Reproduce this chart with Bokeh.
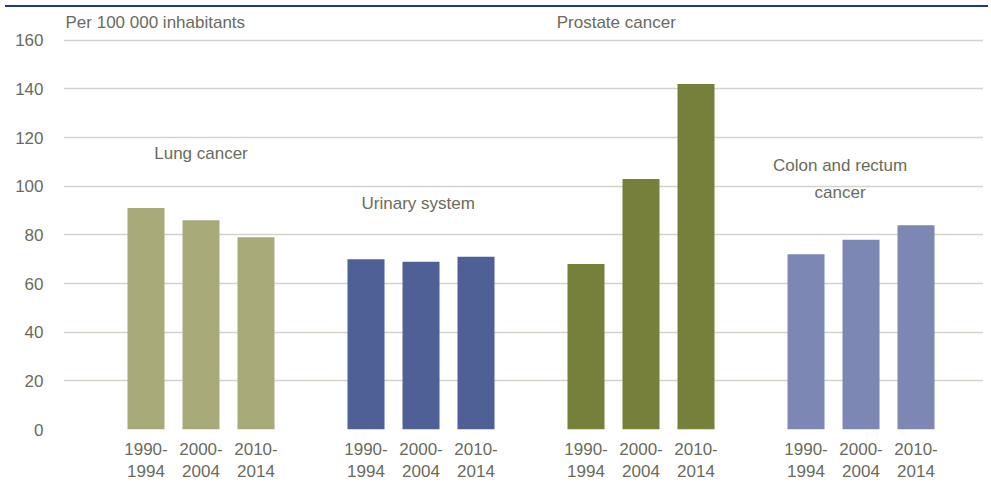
from bokeh.plotting import figure
from bokeh.models import FixedTicker, Label, Range1d, Div
from bokeh.layouts import column
from bokeh.embed import file_html
from bokeh.resources import INLINE

# ---- data ----
groups = ["Lung cancer", "Urinary system", "Prostate cancer", "Colon and rectum\ncancer"]
periods = ["1990-\n1994", "2000-\n2004", "2010-\n2014"]
lung = [91, 86, 79]
urinary = [70, 69, 71]
prostate = [68, 103, 142]
colon = [72, 78, 84]
y_ticks = [0, 20, 40, 60, 80, 100, 120, 140, 160]
unit_label = "Per 100 000 inhabitants"

series = [lung, urinary, prostate, colon]
colors = ["#A8AA7A", "#4E6096", "#76803A", "#7D87B4"]
TEXT = "#6A6B5E"
FONT = "Liberation Sans"

xs, tops, cols, tick_pos, tick_lab = [], [], [], [], []
for g, vals in enumerate(series):
    for i, v in enumerate(vals):
        k = g * 4 + i
        xs.append(k)
        tops.append(v)
        cols.append(colors[g])
        tick_pos.append(k)
        tick_lab.append(periods[i])

p = figure(width=983, height=472, output_backend="svg", toolbar_location=None,
           x_range=Range1d(-1.5, 15.227), y_range=Range1d(0, 171.4),
           min_border_left=63, min_border_right=0, min_border_top=0, min_border_bottom=0)
p.outline_line_color = None
p.background_fill_color = "white"

p.vbar(x=xs, top=tops, width=0.673, color=cols, line_color=None)

# axes
p.xaxis.ticker = FixedTicker(ticks=tick_pos)
p.xaxis.major_label_overrides = {k: s for k, s in zip(tick_pos, tick_lab)}
p.xaxis.axis_line_color = None
p.xaxis.major_tick_line_color = None
p.xaxis.minor_tick_line_color = None
p.xaxis.major_tick_out = 0
p.xaxis.major_tick_in = 0
p.xaxis.major_label_standoff = 10
p.xaxis.major_label_text_font = FONT
p.xaxis.major_label_text_font_size = "17px"
p.xaxis.major_label_text_color = TEXT
p.xaxis.major_label_text_line_height = 1.2

p.yaxis.ticker = FixedTicker(ticks=y_ticks)
p.yaxis.axis_line_color = None
p.yaxis.major_tick_line_color = None
p.yaxis.minor_tick_line_color = None
p.yaxis.major_tick_out = 0
p.yaxis.major_tick_in = 0
p.yaxis.major_label_standoff = 20
p.yaxis.major_label_text_font = FONT
p.yaxis.major_label_text_font_size = "17px"
p.yaxis.major_label_text_color = TEXT

p.xgrid.grid_line_color = None
p.ygrid.ticker = FixedTicker(ticks=y_ticks)
p.ygrid.grid_line_color = "#D3D3CB"
p.ygrid.grid_line_width = 1.5

# annotations
def lab(text, x, y, align="center", xoff=0, lh=1.2):
    p.add_layout(Label(x=x, y=y, text=text, text_align=align, text_baseline="middle",
                       x_offset=xoff, text_font=FONT, text_font_size="17px",
                       text_color=TEXT, text_line_height=lh))

lab(unit_label, -1.5, 167.3, align="left", xoff=2)
lab(groups[0], 1.0, 113.5)
lab(groups[1], 4.95, 92.7)
lab(groups[2], 8.55, 167.3)
lab(groups[3], 12.62, 102.9, lh=1.4)

top_line = Div(text="", width=983, height=2,
               styles={"background-color": "#1B3A7C"})

layout = column(top_line, p, spacing=0)
open("out.html", "w").write(file_html(layout, INLINE))
